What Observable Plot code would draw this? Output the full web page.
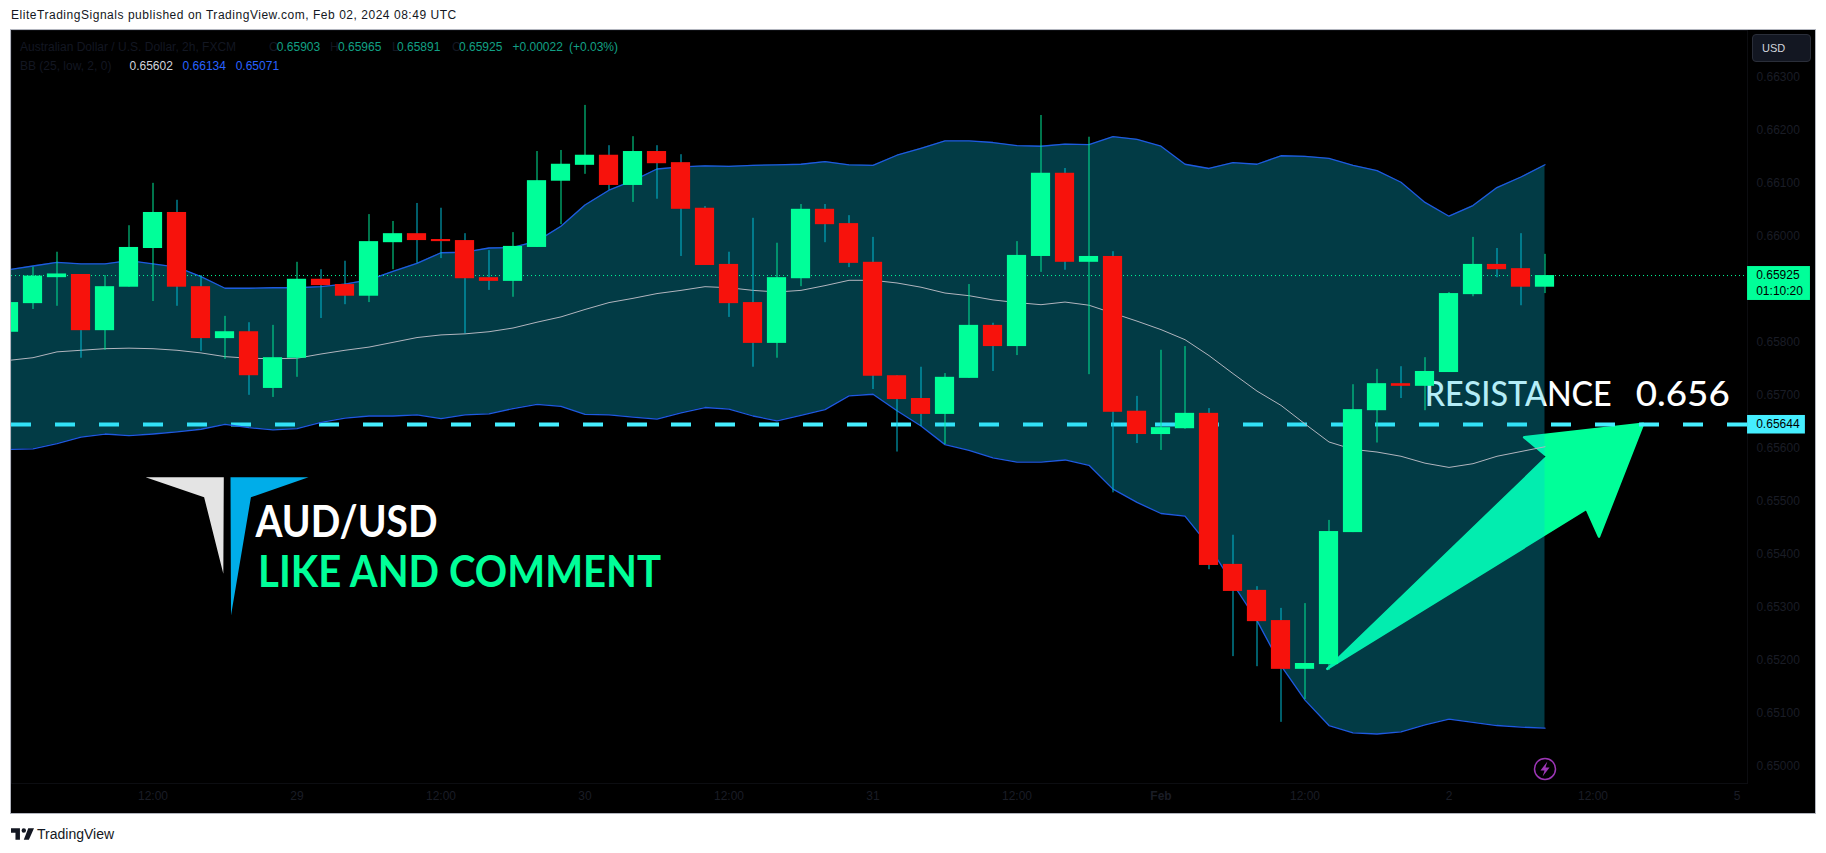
<!DOCTYPE html>
<html><head><meta charset="utf-8">
<script src="https://cdn.jsdelivr.net/npm/d3@7"></script>
<script src="https://cdn.jsdelivr.net/npm/@observablehq/plot@0.6"></script>
<style>
html,body{margin:0;padding:0;background:#fff;width:1826px;height:853px;overflow:hidden;font-family:"Liberation Sans",sans-serif;}
#head{height:29px;line-height:30px;padding-left:11px;font-size:12px;letter-spacing:.53px;color:#131722;box-sizing:border-box;}
#wrap{position:absolute;left:10px;top:29px;width:1804px;height:783px;border:1px solid #b2b5be;background:#000;}
#wrap svg{display:block;}
.lg{position:absolute;font-size:12px;white-space:nowrap;line-height:14px;}
#usd{position:absolute;left:1741px;top:4px;width:59px;height:28px;background:#131722;border:1px solid #2a2e39;border-radius:4px;box-sizing:border-box;color:#d1d4dc;font-size:11px;line-height:27px;padding-left:9px;}
#foot{position:absolute;left:11px;top:826px;height:16px;display:flex;align-items:center;color:#131722;font-size:14px;}
</style></head>
<body>
<div id="head">EliteTradingSignals published on TradingView.com, Feb 02, 2024 08:49 UTC</div>
<div id="wrap"></div>
<div id="foot"><svg width="23" height="12" viewBox="0 0 36 18" style="margin-right:3px"><path fill="#131722" d="M14 18H7V7H0V0h14zM28 18h-8L27 0h9zM20 7a3.5 3.5 0 1 0 0-7 3.5 3.5 0 0 0 0 7z"/></svg>TradingView</div>
<script>
const opens = [
0.65818,0.65872,0.65921,0.65927,0.65821,0.65903,0.65976,0.66044,0.65904,0.65806,
0.65819,0.65712,0.65769,0.65918,0.65908,0.65886,0.65987,0.66004,0.65993,0.65991,
0.65921,0.65914,0.65978,0.66103,0.66133,0.66152,0.66095,0.66159,0.66138,0.66052,
0.65946,0.65874,0.65797,0.65919,0.66050,0.66023,0.65950,0.65736,0.65693,0.65663,
0.65731,0.65831,0.65791,0.65961,0.66118,0.65950,0.65961,0.65669,0.65625,0.65636,
0.65665,0.65380,0.65331,0.65274,0.65182,0.65191,0.65440,0.65670,0.65721,0.65716,
0.65742,0.65889,0.65946,0.65938,0.65903];
const closes = [
0.65874,0.65924,0.65928,0.65821,0.65904,0.65978,0.66044,0.65903,0.65806,0.65819,
0.65736,0.65770,0.65918,0.65906,0.65886,0.65989,0.66004,0.65991,0.65989,0.65919,
0.65914,0.65980,0.66104,0.66135,0.66152,0.66095,0.66159,0.66136,0.66050,0.65944,
0.65872,0.65797,0.65921,0.66050,0.66021,0.65948,0.65735,0.65691,0.65663,0.65733,
0.65831,0.65791,0.65963,0.66118,0.65950,0.65961,0.65667,0.65625,0.65638,0.65665,
0.65378,0.65329,0.65272,0.65182,0.65193,0.65442,0.65672,0.65721,0.65716,0.65744,
0.65891,0.65946,0.65936,0.65903,0.65925];
const highs = [
0.65880,0.65941,0.65969,0.65927,0.65925,0.66019,0.66099,0.66067,0.65925,0.65848,
0.65836,0.65831,0.65950,0.65936,0.65952,0.66040,0.66027,0.66061,0.66052,0.66004,
0.65972,0.66006,0.66159,0.66161,0.66246,0.66170,0.66187,0.66170,0.66153,0.66055,
0.65969,0.66033,0.65986,0.66059,0.66059,0.66038,0.65997,0.65736,0.65752,0.65740,
0.65908,0.65835,0.65989,0.66227,0.66127,0.66186,0.65970,0.65697,0.65784,0.65791,
0.65674,0.65435,0.65338,0.65297,0.65306,0.65463,0.65719,0.65748,0.65753,0.65770,
0.65893,0.65997,0.65976,0.66004,0.65965];
const lows = [
0.65810,0.65861,0.65867,0.65769,0.65784,0.65903,0.65876,0.65867,0.65782,0.65767,
0.65699,0.65695,0.65733,0.65844,0.65870,0.65874,0.65936,0.65948,0.65957,0.65815,
0.65897,0.65884,0.65978,0.66021,0.66116,0.66086,0.66063,0.66069,0.65961,0.65944,
0.65846,0.65752,0.65769,0.65904,0.65987,0.65940,0.65710,0.65592,0.65640,0.65606,
0.65731,0.65744,0.65774,0.65931,0.65935,0.65738,0.65515,0.65608,0.65595,0.65635,
0.65370,0.65206,0.65187,0.65082,0.65125,0.65180,0.65440,0.65609,0.65693,0.65670,
0.65742,0.65885,0.65921,0.65868,0.65891];
const bbUpper = [
0.65936,0.65943,0.65950,0.65947,0.65947,0.65953,0.65947,0.65941,0.65923,0.65901,
0.65901,0.65902,0.65902,0.65904,0.65909,0.65917,0.65933,0.65948,0.65968,0.65969,
0.65977,0.65978,0.65990,0.66018,0.66058,0.66086,0.66104,0.66126,0.66130,0.66132,
0.66131,0.66133,0.66134,0.66135,0.66140,0.66134,0.66133,0.66152,0.66165,0.66179,
0.66179,0.66176,0.66170,0.66169,0.66173,0.66172,0.66187,0.66182,0.66169,0.66135,
0.66127,0.66138,0.66135,0.66151,0.66150,0.66146,0.66133,0.66123,0.66101,0.66063,
0.66037,0.66057,0.66091,0.66111,0.66134];
const bbMiddle = [
0.65765,0.65770,0.65781,0.65784,0.65787,0.65788,0.65787,0.65784,0.65779,0.65772,
0.65769,0.65768,0.65769,0.65777,0.65784,0.65790,0.65799,0.65808,0.65813,0.65815,
0.65819,0.65826,0.65837,0.65847,0.65861,0.65874,0.65882,0.65891,0.65897,0.65904,
0.65902,0.65897,0.65894,0.65897,0.65906,0.65916,0.65916,0.65911,0.65903,0.65892,
0.65887,0.65879,0.65874,0.65870,0.65875,0.65869,0.65854,0.65839,0.65823,0.65804,
0.65774,0.65740,0.65707,0.65680,0.65645,0.65611,0.65597,0.65592,0.65584,0.65571,
0.65563,0.65570,0.65584,0.65593,0.65602];
const bbLower = [
0.65597,0.65598,0.65608,0.65620,0.65626,0.65623,0.65626,0.65630,0.65635,0.65644,
0.65638,0.65634,0.65636,0.65648,0.65656,0.65660,0.65660,0.65662,0.65655,0.65662,
0.65664,0.65674,0.65682,0.65678,0.65663,0.65662,0.65658,0.65654,0.65666,0.65676,
0.65673,0.65660,0.65651,0.65661,0.65672,0.65698,0.65701,0.65670,0.65641,0.65606,
0.65595,0.65581,0.65573,0.65573,0.65577,0.65567,0.65522,0.65497,0.65476,0.65471,
0.65415,0.65343,0.65274,0.65189,0.65124,0.65076,0.65062,0.65060,0.65064,0.65077,
0.65088,0.65082,0.65076,0.65073,0.65071];

const priceTicks = [0.663,0.662,0.661,0.660,0.658,0.657,0.656,0.655,0.654,0.653,0.652,0.651,0.650];
const timeTicks = [6,12,18,24,30,36,42,54,60,66,72];
const timeLabels = ["12:00","29","12:00","30","12:00","31","12:00","12:00","2","12:00","5"];
const lastPrice = 0.65925, resistancePrice = 0.65644, countdown = "01:10:20";

const arrowShape = [[54.93,0.65183],[64.10,0.655836],[63.13,0.6562],[68.09,0.656453],[66.25,0.654326],[65.73,0.654849],[54.93,0.65183]];
const logoWhite = [[5.69,0.655445],[8.95,0.655445],[8.93,0.653623],[8.13,0.655068],[5.69,0.655445]];
const logoBlue = [[9.23,0.655445],[12.48,0.655445],[10.08,0.655068],[9.25,0.652836],[9.23,0.655445]];
const bolt = [[64.10,0.650081],[63.81,0.649911],[63.98,0.649911],[63.90,0.649798],[64.19,0.649968],[64.02,0.649968],[64.10,0.650081]];

const GREEN="#00ff99", RED="#f7120c", WICK_UP="#00e896", WICK_DN="#00bcd4", BLUE="#1e5ae0", CYAN="#45eeff";
const candles = opens.map((o,i)=>({i,o,c:closes[i],h:highs[i],l:lows[i],up:closes[i]>=o}));
const band = bbUpper.map((u,i)=>({i,u,m:bbMiddle[i],d:bbLower[i]}));
const tl = new Map(timeTicks.map((t,k)=>[t,timeLabels[k]]));
const poly=(pts,fill,extra={})=>Plot.line(pts,{x:d=>d[0],y:d=>d[1],fill,stroke:fill,strokeWidth:1,curve:"linear",...extra});
const big=(t,x,y,color,size,weight,len)=>Plot.text([t],{x:()=>x,y:()=>y,text:d=>d,fill:color,fontSize:size,fontFamily:"Lato",fontWeight:weight,textAnchor:"start",lineAnchor:"bottom",className:"fit"+len});

const chart = Plot.plot({
  width:1804,height:783,marginLeft:0,marginRight:68,marginTop:0,marginBottom:30,
  x:{type:"linear",domain:[0,64],range:[-2.5,1533.5]},
  y:{type:"linear",domain:[0.65,0.663],range:[735.3,46.3]},
  style:{background:"#000",fontFamily:"Liberation Sans",fontSize:"12px",overflow:"visible"},
  marks:[
    Plot.frame({stroke:"#0c0d11"}),
    poly(arrowShape,GREEN,{strokeWidth:2.5,strokeLinejoin:"round"}),
    big("RESISTANCE",58.99,0.65678,"#fff",35,500,187),
    big("0.656",67.78,0.65678,"#fff",35,500,94),
    Plot.ruleY([resistancePrice],{stroke:CYAN,strokeWidth:4,strokeDasharray:"20,24"}),
    Plot.areaY(band,{x:"i",y1:"d",y2:"u",fill:"#07c5e3",fillOpacity:0.3,curve:"linear",clip:"frame"}),
    Plot.line(band,{x:"i",y:"u",stroke:BLUE,strokeWidth:1.3,clip:"frame"}),
    Plot.line(band,{x:"i",y:"d",stroke:BLUE,strokeWidth:1.3,clip:"frame"}),
    Plot.line(band,{x:"i",y:"m",stroke:"#b2b5be",strokeWidth:1,clip:"frame"}),
    Plot.ruleY([lastPrice],{stroke:GREEN,strokeWidth:1,strokeDasharray:"1,3"}),
    Plot.ruleX(candles,{x:"i",y1:"l",y2:"h",stroke:d=>d.up?WICK_UP:WICK_DN,strokeWidth:1,clip:"frame"}),
    Plot.rect(candles,{x1:d=>d.i-0.4,x2:d=>d.i+0.4,y1:"o",y2:"c",fill:d=>d.up?GREEN:RED,clip:"frame"}),
    poly(logoWhite,"#e4e4e4",{strokeWidth:0}),
    poly(logoBlue,"#00ade9",{strokeWidth:0}),
    big("AUD/USD",10.27,0.654313,"#fff",43,700,182),
    big("LIKE AND COMMENT",10.38,0.65337,GREEN,43,700,403),
    Plot.dot([0],{x:()=>64,y:()=>0.64994,r:10.5,stroke:"#9c36b5",strokeWidth:1.5,fill:"#000"}),
    poly(bolt,"#9c36b5",{strokeWidth:0}),
    Plot.axisY({anchor:"right",ticks:priceTicks,tickSize:0,tickPadding:9,tickFormat:d=>d.toFixed(5),color:"#1a1d26",label:null,fontSize:12}),
    Plot.axisX({anchor:"bottom",ticks:timeTicks,tickSize:0,tickPadding:8,tickFormat:d=>tl.get(d),color:"#1a1d26",label:null,fontSize:12}),
    Plot.axisX({anchor:"bottom",ticks:[48],tickSize:0,tickPadding:8,tickFormat:()=>"Feb",color:"#1a1d26",label:null,fontSize:12,fontWeight:700}),
    Plot.rect([0],{x1:()=>72.44,x2:()=>75.06,y1:()=>0.65942,y2:()=>0.65878,fill:GREEN}),
    Plot.text([lastPrice],{x:()=>72.8,y:d=>d,text:d=>d.toFixed(5),textAnchor:"start",fill:"#000",fontSize:12}),
    Plot.text([countdown],{x:()=>72.8,y:()=>0.65895,text:d=>d,textAnchor:"start",fill:"#000",fontSize:12}),
    Plot.rect([0],{x1:()=>72.44,x2:()=>74.85,y1:()=>0.65661,y2:()=>0.65626,fill:CYAN}),
    Plot.text([resistancePrice],{x:()=>72.8,y:d=>d,text:d=>d.toFixed(5),textAnchor:"start",fill:"#000",fontSize:12})
  ]
});
for (const len of [187,94,182,403]) {
  chart.querySelectorAll(".fit"+len+" text, text.fit"+len).forEach(t=>{
    t.setAttribute("textLength",len);t.setAttribute("lengthAdjust","spacingAndGlyphs");
  });
}
const wrap=document.getElementById("wrap");
wrap.appendChild(chart);

const NAME="#131722", TEAL="#12a085", BB="#2962ff";
const legend=[
 ["Australian Dollar / U.S. Dollar, 2h, FXCM",9,10,NAME],
 ["O",258,10,NAME],["0.65903",265.8,10,TEAL],
 ["H",319,10,NAME],["0.65965",327,10,TEAL],
 ["L",381,10,NAME],["0.65891",386,10,TEAL],
 ["C",441,10,NAME],["0.65925",448,10,TEAL],
 ["+0.00022",501.5,10,TEAL],["(+0.03%)",558,10,TEAL],
 ["BB (25, low, 2, 0)",9,29,NAME],
 ["0.65602",118.5,29,"#d1d4dc"],["0.66134",171.6,29,BB],["0.65071",224.7,29,BB]
];
for(const [t,x,y,c] of legend){
  const s=document.createElement("div");s.className="lg";s.textContent=t;
  s.style.left=x+"px";s.style.top=y+"px";s.style.color=c;wrap.appendChild(s);
}
const u=document.createElement("div");u.id="usd";u.textContent="USD";wrap.appendChild(u);
</script>
</body></html>
